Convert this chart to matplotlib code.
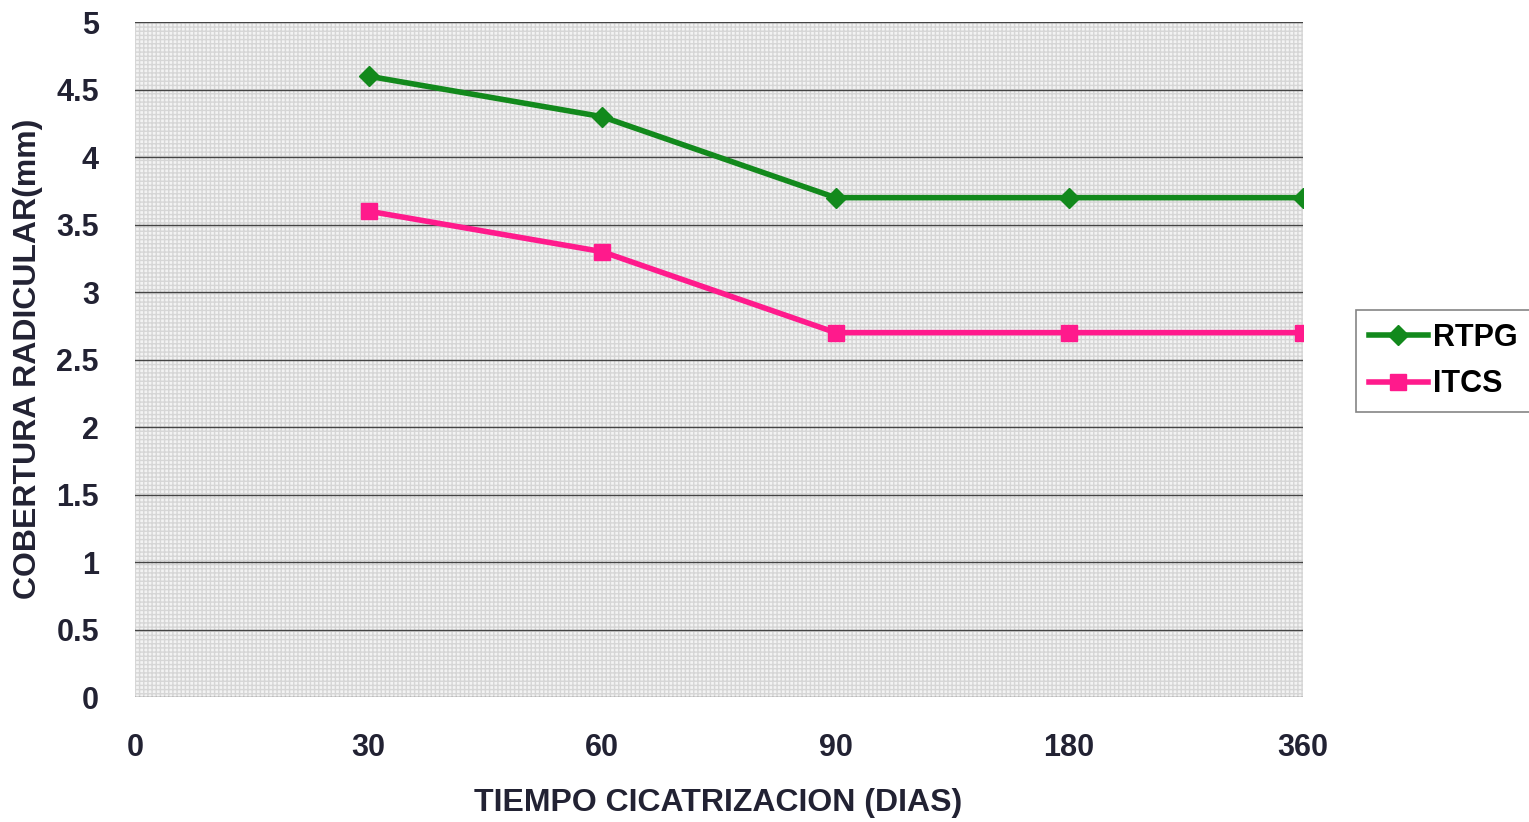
import matplotlib.pyplot as plt

# datos
dias = ['0', '30', '60', '90', '180', '360']
rtpg = [4.6, 4.3, 3.7, 3.7, 3.7]
itcs = [3.6, 3.3, 2.7, 2.7, 2.7]
y_ticks = [0, 0.5, 1, 1.5, 2, 2.5, 3, 3.5, 4, 4.5, 5]
y_labels = ['0', '0.5', '1', '1.5', '2', '2.5', '3', '3.5', '4', '4.5', '5']

plt.rcParams['font.family'] = ['Liberation Sans', 'DejaVu Sans']
plt.rcParams['font.weight'] = 'bold'

fig = plt.figure(figsize=(15.29, 8.22), dpi=100)
ax = fig.add_axes([0.0883, 0.152, 0.7637, 0.821])

# fondo tramado gris claro
ax.set_facecolor('#f3f3f3')
ax.patch.set_hatch('++++')
ax.patch.set_edgecolor('#d6d6d6')
ax.patch.set_linewidth(0)

x = range(1, len(dias))
ax.plot(x, rtpg, color='#12891c', lw=4, marker='D', ms=10, label='RTPG')
ax.plot(x, itcs, color='#ff1a8c', lw=4, marker='s', ms=12, label='ITCS')

ax.set_xlim(0, 5)
ax.set_ylim(0, 5)
ax.set_xticks(range(len(dias)))
ax.set_xticklabels(dias)
ax.set_yticks(y_ticks)
ax.set_yticklabels(y_labels)
ax.tick_params(axis='x', length=0, pad=26, labelsize=22, colors='#222233')
ax.tick_params(axis='y', length=0, pad=26, labelsize=22, colors='#222233')
ax.yaxis.grid(True, color='#444444', lw=1)
ax.set_axisbelow(True)
for s in ax.spines.values():
    s.set_visible(False)

# titulos de ejes
fig.text(718 / 1529, 1 - 803 / 822, 'TIEMPO CICATRIZACION (DIAS)', fontsize=23, fontweight='bold',
         color='#222233', ha='center', va='center')
fig.text(28 / 1529, 1 - 359 / 822, 'COBERTURA RADICULAR(mm)', fontsize=23, fontweight='bold',
         color='#222233', ha='center', va='center', rotation=90)

leg = ax.legend(loc='center left', bbox_to_anchor=(1.046, 0.498), fontsize=22, frameon=True,
                fancybox=False, edgecolor='#666666', handlelength=1.95, handletextpad=0.15,
                borderpad=0.4, labelspacing=0.55, borderaxespad=0)
leg.get_frame().set_linewidth(1.2)

fig.savefig('out.png', dpi=100)
